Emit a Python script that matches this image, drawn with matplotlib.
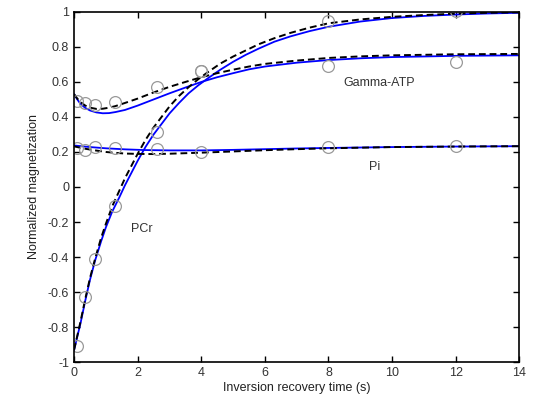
import matplotlib
matplotlib.use('Agg')
import matplotlib.pyplot as plt
import numpy as np

plt.rcParams['font.family'] = ['Liberation Sans', 'DejaVu Sans']

# measured points (open circles)
t_meas = [0.1, 0.35, 0.65, 1.3, 2.6, 4, 8, 12]
pcr_meas = [-0.91, -0.63, -0.41, -0.11, 0.315, 0.66, 0.95, 1.005]
atp_meas = [0.493, 0.478, 0.468, 0.487, 0.571, 0.665, 0.69, 0.714]
pi_meas = [0.222, 0.21, 0.227, 0.225, 0.218, 0.197, 0.228, 0.234]

# blue solid fits
pcr_blue_t = [0, 0.2, 0.35, 0.5, 0.66, 0.85, 1.0, 1.2, 1.42, 1.6, 1.8, 2.0, 2.25, 2.5, 2.75, 3.0, 3.3, 3.6,
              3.9, 4.2, 4.6, 5.0, 5.4, 5.8, 6.3, 6.8, 7.4, 8, 9, 10, 11, 12, 13, 14]
pcr_blue = [-0.93, -0.78, -0.65, -0.53, -0.42, -0.31, -0.23, -0.14, -0.06, 0.01, 0.08, 0.15, 0.23, 0.30, 0.36,
            0.42, 0.48, 0.535, 0.58, 0.62, 0.67, 0.715, 0.755, 0.79, 0.83, 0.86, 0.89, 0.915, 0.945, 0.965,
            0.977, 0.985, 0.991, 0.995]
atp_blue_t = [0, 0.1, 0.2, 0.35, 0.5, 0.7, 0.9, 1.1, 1.3, 1.6, 2.0, 2.5, 3.0, 3.5, 4.0, 4.5, 5.0, 5.5, 6.0,
              7, 8, 9, 10, 12, 14]
atp_blue = [0.53, 0.50, 0.475, 0.452, 0.437, 0.426, 0.421, 0.422, 0.428, 0.44, 0.465, 0.50, 0.535, 0.568,
            0.60, 0.627, 0.65, 0.672, 0.688, 0.71, 0.725, 0.735, 0.742, 0.749, 0.752]
pi_blue_t = [0, 0.5, 1.0, 1.6, 2.2, 3, 4, 5, 6, 7, 8, 10, 12, 14]
pi_blue = [0.237, 0.228, 0.221, 0.215, 0.211, 0.209, 0.209, 0.212, 0.216, 0.22, 0.223, 0.228, 0.231, 0.233]

# black dashed fits
pcr_dash_t = [0, 0.2, 0.35, 0.5, 0.66, 0.85, 1.0, 1.2, 1.4, 1.6, 1.8, 2.0, 2.25, 2.5, 2.75, 3.0, 3.3, 3.6,
              3.9, 4.2, 4.6, 5.0, 5.4, 5.8, 6.3, 6.8, 7.4, 8, 9, 10, 11, 12, 13, 14]
pcr_dash = [-0.93, -0.77, -0.64, -0.52, -0.41, -0.29, -0.21, -0.11, -0.03, 0.05, 0.12, 0.19, 0.27, 0.34, 0.40,
            0.46, 0.52, 0.57, 0.615, 0.655, 0.705, 0.745, 0.78, 0.815, 0.85, 0.88, 0.91, 0.935, 0.957, 0.972,
            0.982, 0.99, 0.995, 0.998]
atp_dash_t = [0, 0.1, 0.2, 0.35, 0.5, 0.7, 0.9, 1.1, 1.3, 1.6, 2.0, 2.5, 3.0, 3.5, 4.0, 4.5, 5.0, 5.5, 6.0,
              7, 8, 9, 10, 12, 14]
atp_dash = [0.53, 0.505, 0.485, 0.465, 0.453, 0.446, 0.447, 0.453, 0.462, 0.48, 0.505, 0.54, 0.572, 0.60,
            0.627, 0.65, 0.67, 0.688, 0.703, 0.722, 0.737, 0.746, 0.752, 0.758, 0.76]
pi_dash_t = [0, 0.3, 0.63, 1.0, 1.3, 1.6, 2.0, 2.5, 3.0, 4.0, 5, 6, 7, 8, 10, 12, 14]
pi_dash = [0.232, 0.22, 0.21, 0.2, 0.195, 0.191, 0.189, 0.188, 0.19, 0.196, 0.203, 0.21, 0.216, 0.221, 0.228,
           0.231, 0.233]

fig = plt.figure(figsize=(5.37, 3.97), dpi=100)
ax = fig.add_axes([0.138, 0.088, 0.829, 0.882])

for tt, yy in [(pcr_blue_t, pcr_blue), (atp_blue_t, atp_blue), (pi_blue_t, pi_blue)]:
    ax.plot(tt, yy, color='#0000ff', lw=1.3, solid_joinstyle='round')
for tt, yy in [(pcr_dash_t, pcr_dash), (atp_dash_t, atp_dash), (pi_dash_t, pi_dash)]:
    ax.plot(tt, yy, color='black', lw=1.4, ls=(0, (3.5, 2)))
for yy in [pcr_meas, atp_meas, pi_meas]:
    ax.plot(t_meas, yy, 'o', mfc='none', mec='#999999', ms=8.5, mew=0.9)

ax.text(8.46, 0.594, 'Gamma-ATP', fontsize=9, color='#333333', va='center')
ax.text(9.28, 0.114, 'Pi', fontsize=9, color='#333333', va='center')
ax.text(1.79, -0.24, 'PCr', fontsize=9, color='#333333', va='center')

ax.set_xlim(0, 14)
ax.set_ylim(-1, 1)
ax.set_xticks(range(0, 15, 2))
yt = np.round(np.arange(-1, 1.01, 0.2), 1) + 0.0
ax.set_yticks(yt)
ax.set_yticklabels(['%g' % (v if abs(v) > 1e-9 else 0) for v in yt])
ax.tick_params(direction='in', top=True, right=True, length=4, width=1, labelsize=9, colors='black', labelcolor='#333333')
for s in ax.spines.values():
    s.set_linewidth(1.2)
ax.set_xlabel('Inversion recovery time (s)', fontsize=9, color='#222222', labelpad=2)
ax.set_ylabel('Normalized magnetization', fontsize=9, color='#222222', labelpad=6)

fig.savefig('out.png', dpi=100)
